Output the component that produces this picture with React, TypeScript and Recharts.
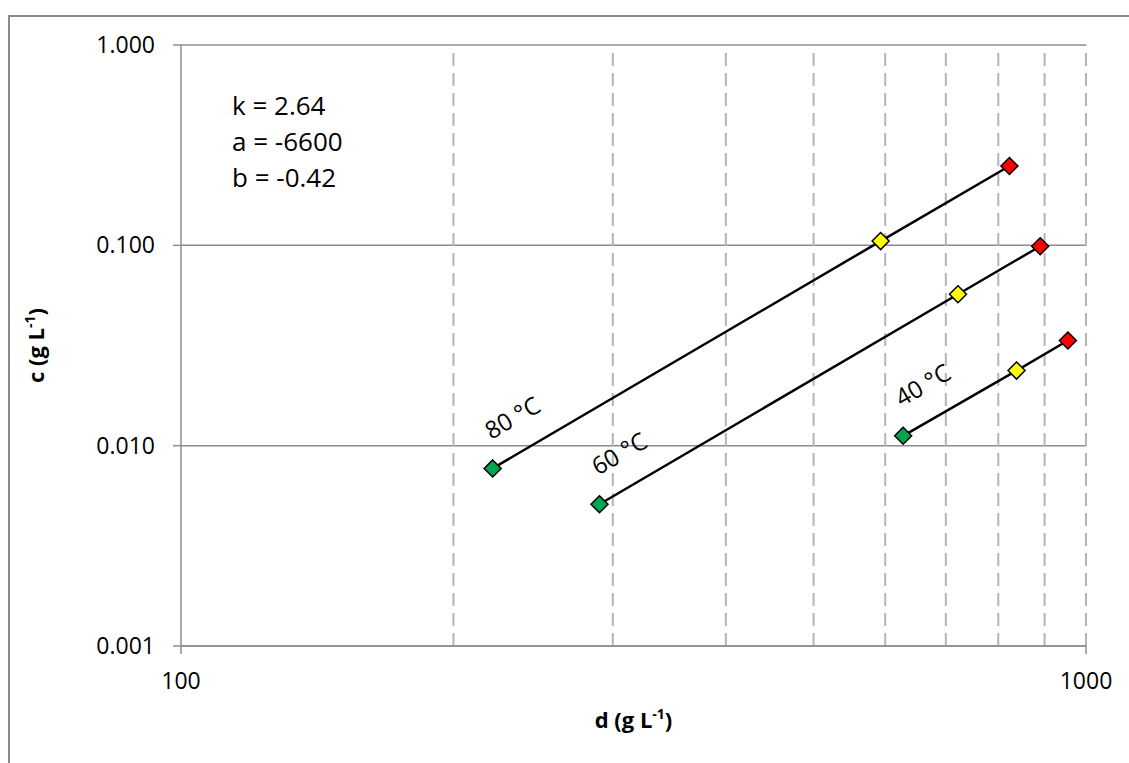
import React from 'react';
import {
  ScatterChart,
  Scatter,
  XAxis,
  YAxis,
  CartesianGrid,
  ReferenceLine,
  LabelList,
} from 'recharts';

// ---- data ----
const series80 = [
  { d: 221, c: 0.0077 },
  { d: 593, c: 0.105 },
  { d: 823, c: 0.249 },
];
const series60 = [
  { d: 290, c: 0.0051 },
  { d: 722, c: 0.057 },
  { d: 890, c: 0.099 },
];
const series40 = [
  { d: 628, c: 0.0112 },
  { d: 838, c: 0.0237 },
  { d: 955, c: 0.0335 },
];
const seriesLabels = ['80 °C', '60 °C', '40 °C'];
const xTicks = [100, 1000];
const xMinorGrid = [200, 300, 400, 500, 600, 700, 800, 900, 1000];
const yTicks = [0.001, 0.01, 0.1, 1];
const annotations = ['k = 2.64', 'a = -6600', 'b = -0.42'];

const allSeries = [series80, series60, series40];
const greenPoints = allSeries.map((s) => s[0]);
const yellowPoints = allSeries.map((s) => s[1]);
const redPoints = allSeries.map((s) => s[2]);

const FONT = '"Open Sans", sans-serif';

const makeDiamond = (color: string) => (props: any) => {
  const { cx, cy } = props;
  if (cx == null || cy == null) return <g />;
  const r = 8.5;
  return (
    <path
      d={`M${cx},${cy - r}L${cx + r},${cy}L${cx},${cy + r}L${cx - r},${cy}Z`}
      fill={color}
      stroke="#000"
      strokeWidth={1.5}
    />
  );
};

const NoShape = () => <g />;

const makeTempLabel = (text: string) => (props: any) => {
  const { x, y, index } = props;
  if (index !== 0) return null;
  const tx = x + 3;
  const ty = y - 24;
  return (
    <text
      x={tx}
      y={ty}
      fontFamily={FONT}
      fontSize={24}
      fill="#000"
      transform={`rotate(-30 ${tx} ${ty})`}
    >
      {text}
    </text>
  );
};

const XTitle = (props: any) => {
  const vb = props.viewBox || {};
  const cx = (vb.x ?? 0) + (vb.width ?? 0) / 2;
  return (
    <text x={cx} y={728} textAnchor="middle" fontFamily={FONT} fontSize={22} fontWeight="bold" fill="#000">
      <tspan>d (g L</tspan>
      <tspan dy={-9} fontSize={14}>-1</tspan>
      <tspan dy={9}>)</tspan>
    </text>
  );
};

const YTitle = (props: any) => {
  const vb = props.viewBox || {};
  const cy = (vb.y ?? 0) + (vb.height ?? 0) / 2;
  const x = 44;
  return (
    <text
      x={x}
      y={cy}
      textAnchor="middle"
      fontFamily={FONT}
      fontSize={22}
      fontWeight="bold"
      fill="#000"
      transform={`rotate(-90 ${x} ${cy})`}
    >
      <tspan>c (g L</tspan>
      <tspan dy={-9} fontSize={14}>-1</tspan>
      <tspan dy={9}>)</tspan>
    </text>
  );
};

export default function App() {
  return (
    <div style={{ position: 'absolute', left: 0, top: 0, width: 1129, height: 763, overflow: 'hidden', background: '#fff' }}>
      <div
        style={{
          position: 'absolute',
          left: 8,
          top: 15,
          width: 1200,
          height: 800,
          borderTop: '2px solid #8a8a8a',
          borderLeft: '2px solid #8a8a8a',
          boxSizing: 'border-box',
        }}
      />
      <div style={{ position: 'absolute', left: 0, top: 0 }}>
        <ScatterChart width={1129} height={763} margin={{ top: 45, right: 43, bottom: 57, left: 81 }}>
          <CartesianGrid vertical={false} stroke="#8c8c8c" strokeWidth={1.5} />
          {xMinorGrid.map((v) => (
            <ReferenceLine key={v} x={v} stroke="#b4b4b4" strokeWidth={2} strokeDasharray="13 7" />
          ))}
          <XAxis
            dataKey="d"
            type="number"
            scale="log"
            domain={[100, 1000]}
            ticks={xTicks}
            allowDataOverflow
            height={60}
            tickSize={8}
            tickMargin={19}
            stroke="#8c8c8c"
            strokeWidth={1.5}
            tick={{ fill: '#000', fontFamily: FONT, fontSize: 23 }}
            label={<XTitle />}
          />
          <YAxis
            dataKey="c"
            type="number"
            scale="log"
            domain={[0.001, 1]}
            ticks={yTicks}
            allowDataOverflow
            width={100}
            tickSize={8}
            tickMargin={18}
            stroke="#8c8c8c"
            strokeWidth={1.5}
            tickFormatter={(v: number) => v.toFixed(3)}
            tick={{ fill: '#000', fontFamily: FONT, fontSize: 23 }}
            label={<YTitle />}
          />
          {allSeries.map((s, i) => (
            <Scatter
              key={`line-${i}`}
              data={s}
              line={{ stroke: '#000', strokeWidth: 2.5 }}
              shape={NoShape}
              isAnimationActive={false}
            >
              <LabelList dataKey="d" content={makeTempLabel(seriesLabels[i])} />
            </Scatter>
          ))}
          <Scatter data={greenPoints} shape={makeDiamond('#00A550')} isAnimationActive={false} />
          <Scatter data={yellowPoints} shape={makeDiamond('#FFFF00')} isAnimationActive={false} />
          <Scatter data={redPoints} shape={makeDiamond('#FF0000')} isAnimationActive={false} />
        </ScatterChart>
      </div>
      <svg width={1129} height={763} style={{ position: 'absolute', left: 0, top: 0, pointerEvents: 'none' }}>
        {annotations.map((t, i) => (
          <text key={t} x={232} y={115 + i * 36} fontFamily={FONT} fontSize={26} fill="#000">
            {t}
          </text>
        ))}
      </svg>
    </div>
  );
}
